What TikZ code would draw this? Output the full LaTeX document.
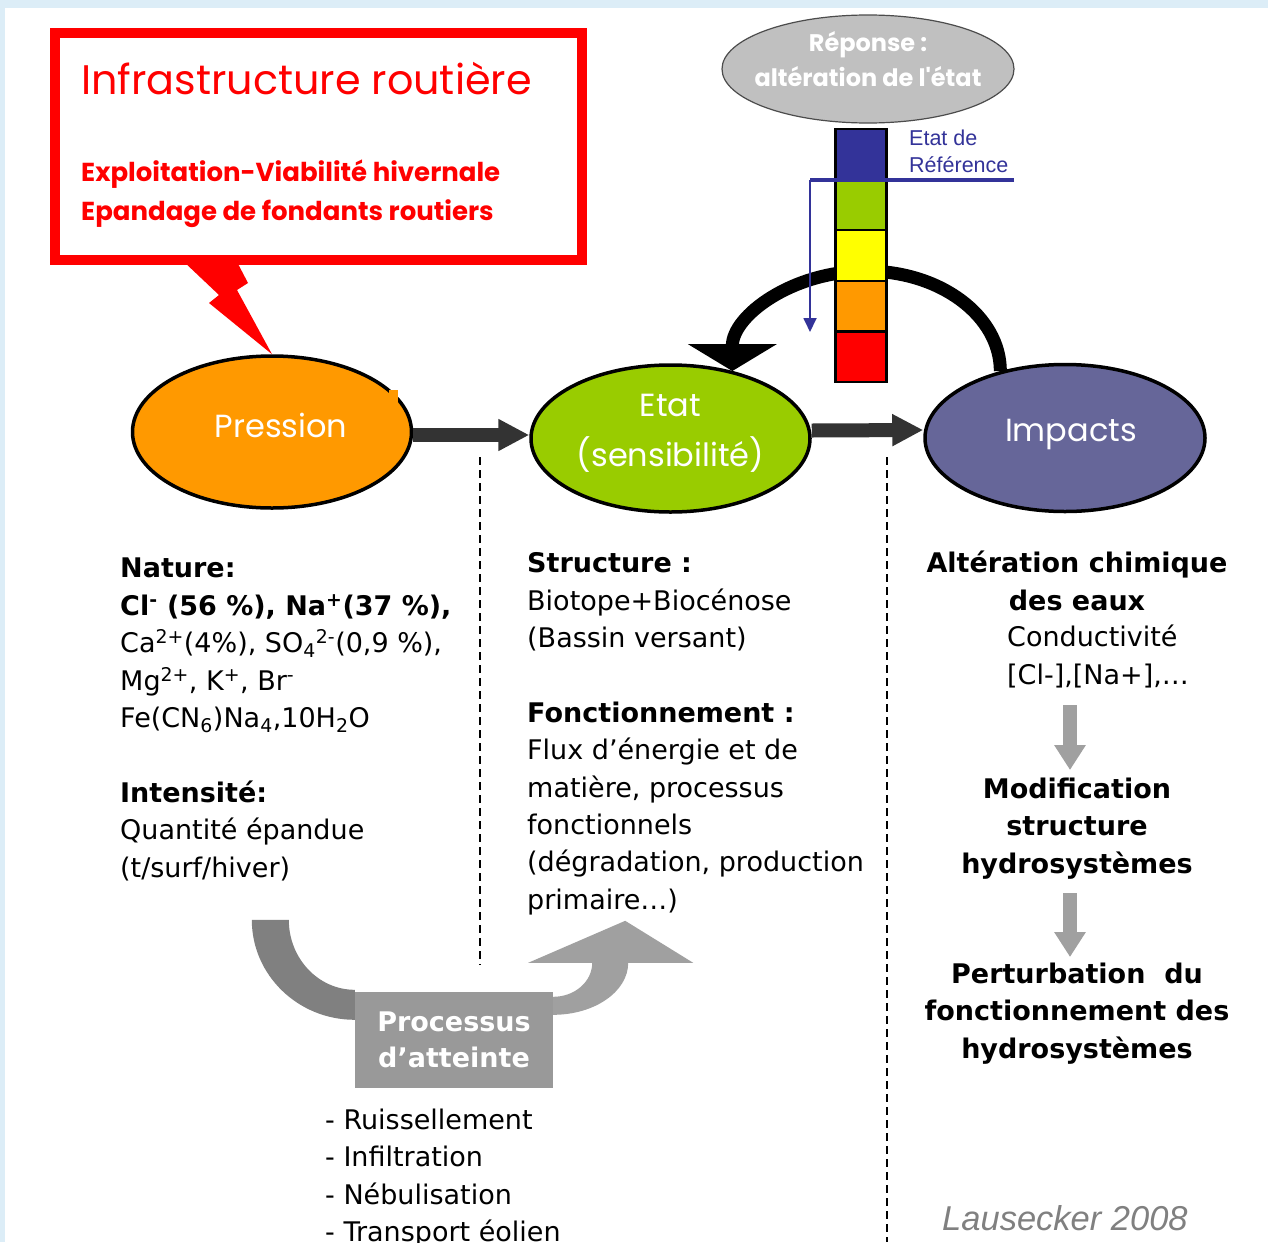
\documentclass[tikz,border=0pt]{standalone}
\usepackage{fontspec}
\setmainfont{DejaVu Sans}
\newfontfamily\comicfont{Poppins}
\newfontfamily\arialfont{Liberation Sans}
\usetikzlibrary{positioning,arrows.meta,calc,shapes.geometric}

\definecolor{fondbleu}{RGB}{220,237,247}
\definecolor{orangep}{RGB}{255,153,0}
\definecolor{vertetat}{RGB}{153,204,0}
\definecolor{violetimp}{RGB}{102,102,153}
\definecolor{bleuref}{RGB}{51,51,153}
\definecolor{jaune}{RGB}{255,255,0}
\definecolor{rouge}{RGB}{255,0,0}
\definecolor{grisrep}{RGB}{192,192,192}
\definecolor{grisfonce}{RGB}{51,51,51}
\definecolor{grisproc}{RGB}{153,153,153}
\definecolor{grismoyen}{RGB}{128,128,128}
\definecolor{grisclair}{RGB}{160,160,160}

\tikzset{
    cadre/.style = {
        draw=rouge,
        line width=10pt,
        minimum width=527pt,
        minimum height=227pt,
        inner sep=0pt
    },
    titrerouge/.style = {
        anchor=north west,
        inner sep=0pt,
        text=rouge,
        font=\comicfont\fontsize{41.3}{44}\selectfont
    },
    soustitre/.style = {
        anchor=north west,
        inner sep=0pt,
        text=rouge,
        align=left,
        font=\comicfont\bfseries\fontsize{26}{39}\selectfont
    },
    etape/.style = {
        draw,
        shape=ellipse,
        line width=3.5pt,
        inner sep=0pt,
        text=white,
        align=center,
        font=\comicfont\fontsize{32}{50}\selectfont
    },
    reponse/.style = {
        draw=black!70,
        shape=ellipse,
        fill=grisrep,
        line width=1.2pt,
        minimum width=292pt,
        minimum height=108pt,
        inner xsep=-25pt,
        inner ysep=-5pt,
        text depth=21pt,
        text=white,
        align=center,
        font=\comicfont\bfseries\fontsize{24}{35}\selectfont
    },
    palier/.style = {
        draw,
        line width=2.5pt,
        minimum width=51pt,
        minimum height=50.6pt,
        inner sep=0pt
    },
    texte/.style = {
        anchor=north west,
        inner sep=0pt,
        align=left,
        font=\fontsize{27}{37.4}\selectfont
    },
    texteimpact/.style = {
        anchor=north,
        inner sep=0pt,
        align=center,
        font=\bfseries\fontsize{27}{37.4}\selectfont
    },
    processus/.style = {
        fill=grisproc,
        minimum width=198pt,
        minimum height=96pt,
        inner sep=0pt,
        text=white,
        align=center,
        font=\bfseries\fontsize{27}{36}\selectfont
    },
    source/.style = {
        anchor=north west,
        inner sep=0pt,
        text=grismoyen,
        font=\arialfont\itshape\fontsize{34.5}{40}\selectfont
    },
    reference/.style = {
        anchor=north west,
        inner sep=0pt,
        text=bleuref,
        align=left,
        font=\arialfont\fontsize{21.5}{27}\selectfont
    },
    bloc/.style = {
        draw=grisfonce,
        line width=14pt,
        -{Triangle[length=31pt,width=30pt]}
    },
    retour/.style = {
        draw,
        line width=13pt,
        -{Triangle[length=27pt,width=88pt]}
    },
    descente/.style = {
        draw=grisclair,
        line width=14pt,
        -{Triangle[length=25pt,width=30pt]}
    },
    separation/.style = {
        draw,
        line width=2.2pt,
        dash pattern=on 8pt off 5pt
    },
}

\begin{document}
\begin{tikzpicture}[x=1pt,y=1pt]
            \useasboundingbox (0,0) rectangle (1268,-1242);
            \fill[fondbleu] (0,0) rectangle (1268,-1242);
            \fill[white] (5,-8) rectangle (1268,-1242);

            \node[cadre] (infra) at (318.5,-146.5) {};
            \node[titrerouge] (titre) at (81,-62) {Infrastructure routière};
            \node[soustitre] (actions) at (81,-160) {Exploitation-Viabilité hivernale\\Epandage de fondants routiers};

            \node[etape, fill=orangep, minimum width=279pt, minimum height=152pt, text depth=12.5pt] (pression) at (272,-432) {\hspace*{18pt}Pression};
            \node[etape, fill=vertetat, minimum width=279pt, minimum height=147pt, text depth=16.5pt] (etat) at (670.5,-438.5) {Etat\\(sensibilité)};
            \node[etape, fill=violetimp, minimum width=280pt, minimum height=147pt, text depth=15.5pt] (impacts) at (1065,-438) {\hspace*{12pt}Impacts};
            \fill[orangep] (389,-390) rectangle (398,-403);

            \node[reponse] (reponse) at (868,-69) {Réponse :\\altération de l'état};

            \path[fill=rouge] (182,-260) -- (219,-295) -- (209,-303) -- (pression.north) -- (237,-290) -- (248,-283) -- (236,-260) -- cycle;

            \path[draw, bloc] ([yshift=-3pt]pression.east) -- ([yshift=3.5pt]etat.west);
            \path[draw, bloc] ([yshift=8pt]etat.east) -- ([yshift=8pt]impacts.west);

            \path[draw, retour] (impacts.134) arc[start angle=0, end angle=180, x radius=134pt, y radius=100pt];

            \foreach \couleur [count=\i] in {bleuref,vertetat,jaune,orangep,rouge}
                \node[palier, fill=\couleur] (palier\i) at (861,{-103.7-50.6*\i}) {};

            \coordinate (refdroite) at (1014,-180);
            \coordinate (refcoude) at (810,-180);
            \coordinate (refbas) at (810,-332);
            \path[draw, bleuref, line width=3.5pt] (refdroite) -- (refcoude);
            \path[draw, bleuref, line width=1.8pt, -{Triangle[length=14pt,width=13pt]}] (refcoude) -- (refbas);
            \node[reference] (etatref) at (909,-130) {Etat de\\Référence};

            \path[draw, separation] (480,-457) -- (480,-965);
            \path[draw, separation] (887,-457) -- (887,-1242);

            \node[texte] (nature) at (120,-558) {\textbf{Nature:}\\
                \textbf{Cl\textsuperscript{-} (56 \%), Na\textsuperscript{+}(37 \%),}\\
                Ca\textsuperscript{2+}(4\%), SO\textsubscript{4}\textsuperscript{2-}(0,9 \%),\\
                Mg\textsuperscript{2+}, K\textsuperscript{+}, Br\textsuperscript{-}\\
                Fe(CN\textsubscript{6})Na\textsubscript{4},10H\textsubscript{2}O\\[37.4pt]
                \textbf{Intensité:}\\
                Quantité épandue\\
                (t/surf/hiver)};

            \node[texte] (structure) at (527,-552.5) {\textbf{Structure :}\\
                Biotope+Biocénose\\
                (Bassin versant)\\[37.4pt]
                \textbf{Fonctionnement :}\\
                Flux d’énergie et de\\
                matière, processus\\
                fonctionnels\\
                (dégradation, production\\
                primaire…)};

            \node[texteimpact] (alteration) at (1077,-551) {Altération chimique\\des eaux};
            \node[texte] (mesures) at (1007,-625) {Conductivité\\{[}Cl-],{[}Na+],…};
            \node[texteimpact] (modification) at (1077,-777.5) {Modification\\structure\\hydrosystèmes};
            \node[texteimpact] (perturbation) at (1077,-962.5) {Perturbation \ du\\fonctionnement des\\hydrosystèmes};

            \coordinate (descente1) at (1070,-705);
            \coordinate (arrivee1) at (1070,-770);
            \coordinate (descente2) at (1070,-893);
            \coordinate (arrivee2) at (1070,-957);
            \path[draw, descente] (descente1) -- (arrivee1);
            \path[draw, descente] (descente2) -- (arrivee2);

            \node[processus] (processus) at (454,-1040) {Processus\\d’atteinte};
            \path[fill=grismoyen] ([yshift=-28pt]processus.north west) arc[start angle=270, end angle=180, x radius=103pt, y radius=100pt] -- ++(37,0) arc[start angle=180, end angle=270, x radius=66pt, y radius=70pt] -- cycle;
            \path[fill=grisclair] ([yshift=-23pt]processus.north east) arc[start angle=270, end angle=360, x radius=75pt, y radius=52pt] -- ++(65,0) -- ++(-68,42) -- ++(-97,-42) -- ++(64,0) arc[start angle=0, end angle=-90, x radius=39pt, y radius=34pt] -- cycle;

            \node[texte] (voies) at (325,-1108.5) {- Ruissellement\\- Infiltration\\- Nébulisation\\- Transport éolien};

            \node[source] (source) at (942,-1205) {Lausecker 2008};

        \end{tikzpicture}
\end{document}
